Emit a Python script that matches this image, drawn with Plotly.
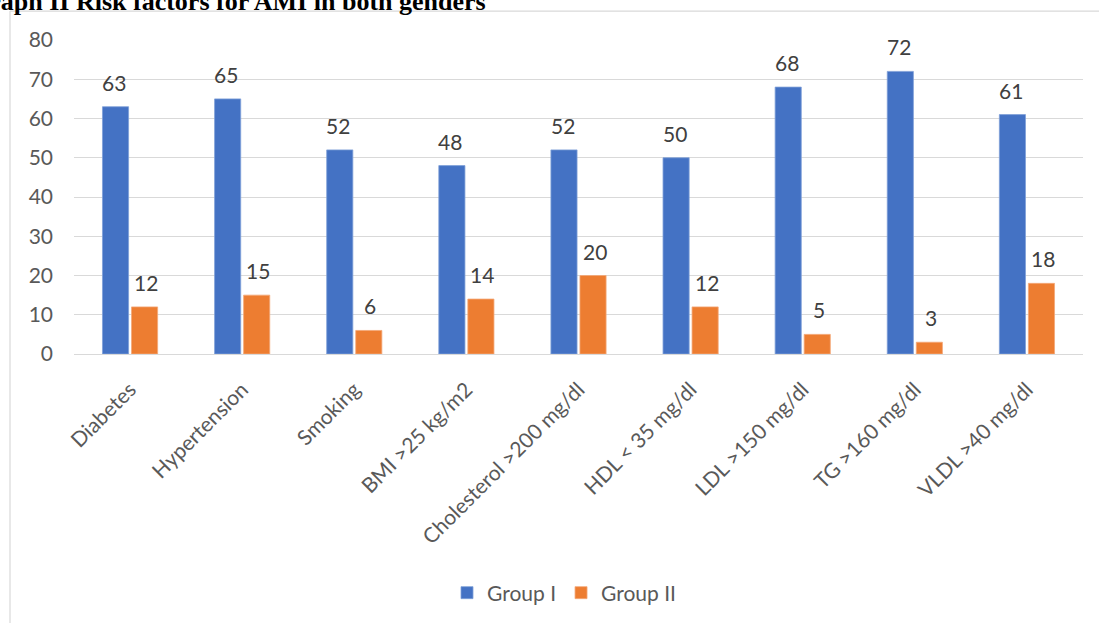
import plotly.graph_objects as go

categories = ["Diabetes", "Hypertension", "Smoking", "BMI >25 kg/m2", "Cholesterol >200 mg/dl",
              "HDL < 35 mg/dl", "LDL >150 mg/dl", "TG >160 mg/dl", "VLDL >40 mg/dl"]
group1 = [63, 65, 52, 48, 52, 50, 68, 72, 61]
group2 = [12, 15, 6, 14, 20, 12, 5, 3, 18]
y_ticks = [0, 10, 20, 30, 40, 50, 60, 70, 80]
title_text = "Graph II Risk factors for AMI in both genders"

W, H = 1099, 623
L, R, T, B = 74, 16, 40, 268
pw, ph = W - L - R, H - T - B

FONT = "Lato, Calibri, Carlito, sans-serif"
FS = 21
BLUE, ORANGE = "#4472C4", "#ED7D31"

fig = go.Figure()
fig.add_trace(go.Bar(name="Group I", x=categories, y=group1,
                     marker=dict(color=BLUE, line=dict(color="#7f9fd8", width=0.8))))
fig.add_trace(go.Bar(name="Group II", x=categories, y=group2,
                     marker=dict(color=ORANGE, line=dict(color="#f4a878", width=0.8))))

annotations = []
for vals, dx in ((group1, -16), (group2, 16)):
    for c, v in zip(categories, vals):
        annotations.append(dict(x=c, y=v, xref="x", yref="y", text=str(v), showarrow=False,
                                xshift=dx, yshift=10, yanchor="bottom",
                                font=dict(family=FONT, size=FS, color="#404040")))

annotations.append(dict(x=(488 - L) / pw, y=1 + (T - 18) / ph, xref="paper", yref="paper",
                        text="<b>" + title_text + "</b>", showarrow=False, xanchor="right", yanchor="bottom",
                        font=dict(family="Liberation Serif, Times New Roman, serif", size=26, color="#000000")))

shapes = [
    dict(type="line", xref="paper", yref="paper", x0=(10 - L) / pw, x1=1.2, y0=1 + (T - 11) / ph, y1=1 + (T - 11) / ph,
         line=dict(color="#d9d9d9", width=1.2)),
    dict(type="line", xref="paper", yref="paper", x0=(10 - L) / pw, x1=(10 - L) / pw, y0=1 + (T - 11) / ph, y1=-2,
         line=dict(color="#d9d9d9", width=1.2)),
]

fig.update_layout(
    width=W, height=H,
    margin=dict(l=L, r=R, t=T, b=B),
    paper_bgcolor="white", plot_bgcolor="white",
    barmode="group", bargap=0.482, bargroupgap=0.1,
    font=dict(family=FONT, size=FS, color="#595959"),
    xaxis=dict(tickangle=-45, showgrid=False, showline=True, linecolor="#d9d9d9", linewidth=1,
               ticks="", ticklabelstandoff=14, tickfont=dict(size=FS, color="#595959")),
    yaxis=dict(range=[0, 80], tickvals=y_ticks, showgrid=True, gridcolor="#d9d9d9", gridwidth=1,
               zeroline=False, ticks="", ticklabelstandoff=20, tickfont=dict(size=FS, color="#595959")),
    legend=dict(orientation="h", x=(564 - L) / pw, xanchor="center", y=(355 - 593) / ph, yanchor="middle",
                font=dict(size=FS, color="#595959"), itemwidth=30),
    annotations=annotations,
    shapes=shapes,
    showlegend=True,
)
fig.write_html("out.html", config={"displayModeBar": False},
               post_script="document.body.style.margin='0px';")
